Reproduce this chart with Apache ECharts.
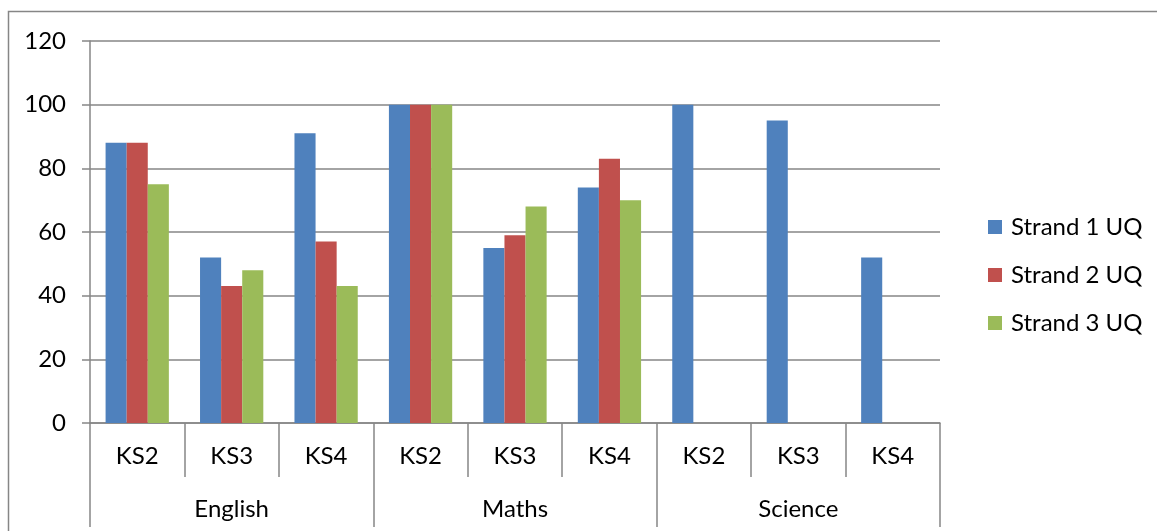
<!DOCTYPE html>
<html>
<head>
<meta charset="utf-8">
<script src="https://cdn.jsdelivr.net/npm/echarts@6/dist/echarts.min.js"></script>
<style>
  html, body { margin: 0; padding: 0; background: #ffffff; }
  #chart { width: 1157px; height: 531px; }
</style>
</head>
<body>
<div id="chart"></div>
<script>
// Key stages shown under each subject
const stages = ['KS2', 'KS3', 'KS4', 'KS2', 'KS3', 'KS4', 'KS2', 'KS3', 'KS4'];
const subjects = ['English', 'Maths', 'Science'];
const seriesNames = ['Strand 1 UQ', 'Strand 2 UQ', 'Strand 3 UQ'];
const strand1 = [88, 52, 91, 100, 55, 74, 100, 95, 52];
const strand2 = [88, 43, 57, 100, 59, 83, null, null, null];
const strand3 = [75, 48, 43, 100, 68, 70, null, null, null];
const yTicks = { min: 0, max: 120, step: 20 };

const FONT = 'Lato';
const FS = 24;
const GREY = '#868686';
const colors = ['#4F81BD', '#C0504D', '#9BBB59'];

const chart = echarts.init(document.getElementById('chart'), null, { renderer: 'canvas' });

chart.setOption({
  animation: false,
  backgroundColor: '#ffffff',
  textStyle: { fontFamily: FONT, color: '#000' },
  graphic: [{
    type: 'rect',
    shape: { x: 8.5, y: 11.5, width: 1300, height: 700 },
    style: { fill: 'none', stroke: GREY, lineWidth: 1.5 },
    silent: true
  }],
  grid: { left: 90, right: 217, top: 41, bottom: 108 },
  legend: {
    orient: 'vertical',
    left: 983,
    top: 210,
    itemWidth: 14,
    itemHeight: 14,
    itemGap: 24,
    icon: 'rect',
    textStyle: { fontFamily: FONT, fontSize: FS, color: '#000', padding: [0, 0, 0, 4] },
    data: seriesNames
  },
  xAxis: [
    {
      type: 'category',
      data: stages,
      axisLine: { show: true, lineStyle: { color: GREY, width: 1.5 } },
      axisTick: { show: true, alignWithLabel: false, interval: 0, length: 54, lineStyle: { color: GREY, width: 1.5 } },
      axisLabel: { margin: 21, fontSize: FS, color: '#000', fontFamily: FONT, interval: 0 }
    },
    {
      type: 'category',
      position: 'bottom',
      data: subjects,
      axisLine: { show: false },
      axisTick: { show: true, alignWithLabel: false, interval: 0, length: 104, lineStyle: { color: GREY, width: 1.5 } },
      axisLabel: { margin: 74, fontSize: FS, color: '#000', fontFamily: FONT, interval: 0 }
    }
  ],
  yAxis: {
    type: 'value',
    min: yTicks.min,
    max: yTicks.max,
    interval: yTicks.step,
    axisLine: { show: true, lineStyle: { color: GREY, width: 1.5 } },
    axisTick: { show: true, length: 8, lineStyle: { color: GREY, width: 1.5 } },
    axisLabel: { margin: 24, fontSize: FS, color: '#000', fontFamily: FONT },
    splitLine: { lineStyle: { color: GREY, width: 1.5 } }
  },
  series: [strand1, strand2, strand3].map((vals, i) => ({
    name: seriesNames[i],
    type: 'bar',
    xAxisIndex: 0,
    data: vals,
    barGap: '0%',
    barCategoryGap: '33%',
    itemStyle: { color: colors[i] }
  }))
});
</script>
</body>
</html>
